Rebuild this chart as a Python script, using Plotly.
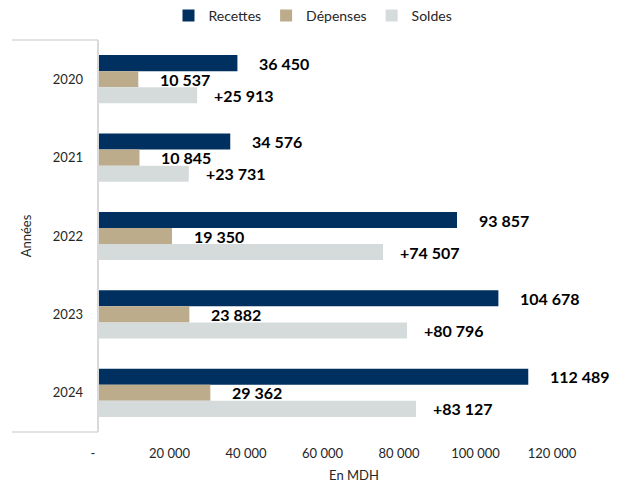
import plotly.graph_objects as go

years = ["2020", "2021", "2022", "2023", "2024"]
recettes = [36450, 34576, 93857, 104678, 112489]
depenses = [10537, 10845, 19350, 23882, 29362]
soldes = [25913, 23731, 74507, 80796, 83127]

tick_vals = [0, 20000, 40000, 60000, 80000, 100000, 120000]
tick_text = ["-", "20 000", "40 000", "60 000", "80 000", "100 000", "120 000"]

FONT = "Lato, 'Open Sans', sans-serif"


def fmt(v, plus=False):
    s = f"{v:,}".replace(",", " ")
    return ("+" + s) if plus else s


series = [
    ("Recettes", recettes, "#003060", False, 16, 20),
    ("Dépenses", depenses, "#BCAC8C", False, 0, 20),
    ("Soldes", soldes, "#D5DBDB", True, -16, 15),
]

fig = go.Figure()
annotations = []
for name, vals, color, plus, ysh, xsh in series:
    fig.add_trace(go.Bar(
        y=years, x=vals, name=name, orientation="h",
        marker=dict(color=color, line=dict(width=0)),
        hoverinfo="x+name",
    ))
    for i, xv in enumerate(vals):
        annotations.append(dict(
            x=xv, y=i, xref="x", yref="y", text=f"<b>{fmt(xv, plus)}</b>",
            showarrow=False, xanchor="left", yanchor="middle",
            xshift=xsh, yshift=ysh,
            font=dict(family=FONT, size=16, color="#000000"),
        ))

plot_w = 626 - 98 - 16
left_frac = (12 - 98) / plot_w

shapes = [
    dict(type="line", xref="paper", yref="paper", x0=0, x1=0, y0=0, y1=1,
         line=dict(color="#D9D9D9", width=2)),
    dict(type="line", xref="paper", yref="paper", x0=left_frac, x1=0, y0=1, y1=1,
         line=dict(color="#D9D9D9", width=1.5)),
    dict(type="line", xref="paper", yref="paper", x0=left_frac, x1=0, y0=0, y1=0,
         line=dict(color="#D9D9D9", width=1.5)),
]

fig.update_layout(
    width=626, height=488,
    margin=dict(l=98, r=16, t=40, b=56, autoexpand=False),
    paper_bgcolor="white", plot_bgcolor="white",
    barmode="group", bargap=0.385, bargroupgap=0,
    font=dict(family=FONT, size=13, color="#262626"),
    showlegend=True,
    legend=dict(orientation="h", x=0.5, xanchor="center", xref="container",
                y=1.0, yanchor="top", yref="container",
                font=dict(family=FONT, size=14, color="#262626"),
                itemwidth=30, traceorder="normal"),
    annotations=annotations,
    shapes=shapes,
    xaxis=dict(range=[0, plot_w / 76.5 * 20000], tickvals=tick_vals, ticktext=tick_text,
               showgrid=False, zeroline=False, showline=False, ticks="",
               automargin=False,
               tickfont=dict(family=FONT, size=13, color="#262626"),
               ticklabelshift=-5, ticklabelstandoff=12,
               title=dict(text="En MDH", font=dict(family=FONT, size=13, color="#262626"),
                          standoff=10)),
    yaxis=dict(type="category", range=[4.5, -0.5], showgrid=False, zeroline=False,
               showline=False, ticks="", automargin=False, ticklabelstandoff=14,
               tickfont=dict(family=FONT, size=13, color="#262626"),
               title=dict(text="Années", font=dict(family=FONT, size=13, color="#262626"),
                          standoff=18)),
)

fig.write_html("out.html", config={"displayModeBar": False},
               post_script="document.body.style.margin='0px';")
